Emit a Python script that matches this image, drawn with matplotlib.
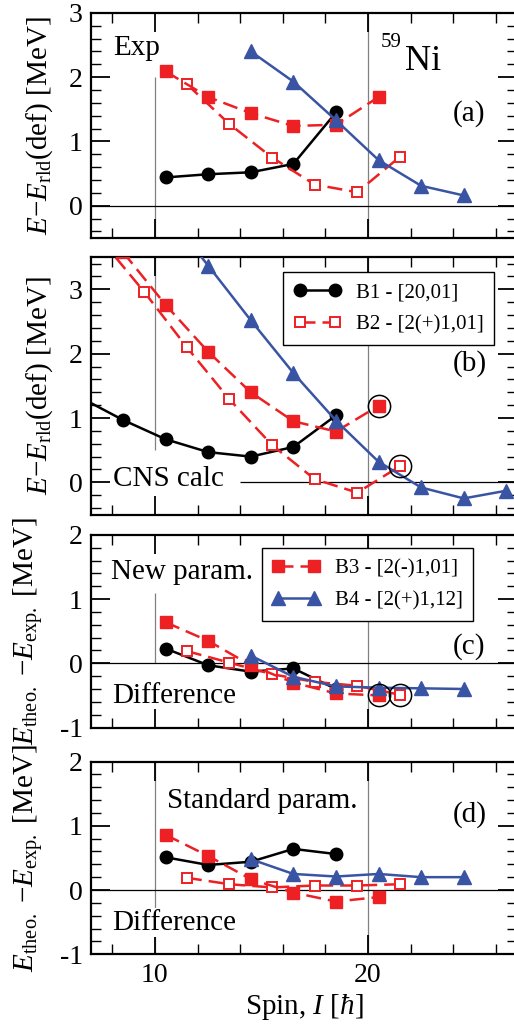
import matplotlib
matplotlib.use("Agg")
import matplotlib.pyplot as plt
from matplotlib.ticker import MultipleLocator, FuncFormatter

plt.rcParams["font.family"] = ["Liberation Serif", "DejaVu Serif"]
plt.rcParams["mathtext.fontset"] = "custom"
plt.rcParams["mathtext.rm"] = "Liberation Serif"
plt.rcParams["mathtext.it"] = "Liberation Serif:italic"
plt.rcParams["mathtext.bf"] = "Liberation Serif:bold"
plt.rcParams["axes.unicode_minus"] = False

RED = "#ED2024"
BLUE = "#3A54A4"

# ---- (a) experimental energies relative to rigid rotor reference ----
a_B1_spin = [10.5, 12.5, 14.5, 16.5, 18.5]
a_B1_E = [0.44, 0.49, 0.52, 0.65, 1.45]
a_B2_spin = [11.5, 13.5, 15.5, 17.5, 19.5, 21.5]
a_B2_E = [1.89, 1.27, 0.75, 0.33, 0.21, 0.76]
a_B3_spin = [10.5, 12.5, 14.5, 16.5, 18.5, 20.5]
a_B3_E = [2.09, 1.69, 1.44, 1.24, 1.26, 1.69]
a_B4_spin = [14.5, 16.5, 18.5, 20.5, 22.5, 24.5]
a_B4_E = [2.40, 1.93, 1.33, 0.71, 0.31, 0.16]

# ---- (b) CNS calculation ----
b_B1_spin = [6.5, 8.5, 10.5, 12.5, 14.5, 16.5, 18.5]
b_B1_E = [1.32, 0.97, 0.67, 0.47, 0.40, 0.55, 1.04]
b_B2_spin = [7.5, 9.5, 11.5, 13.5, 15.5, 17.5, 19.5, 21.5]
b_B2_E = [3.76, 2.96, 2.10, 1.29, 0.58, 0.05, -0.16, 0.25]
b_B3_spin = [8.5, 10.5, 12.5, 14.5, 16.5, 18.5, 20.5]
b_B3_E = [3.58, 2.76, 2.03, 1.40, 0.95, 0.79, 1.19]
b_B4_spin = [10.5, 12.5, 14.5, 16.5, 18.5, 20.5, 22.5, 24.5, 26.5]
b_B4_E = [4.20, 3.37, 2.52, 1.70, 0.96, 0.32, -0.08, -0.25, -0.13]
b_marked_spin = [20.5, 21.5]
b_marked_E = [1.19, 0.25]

# ---- (c) theory - experiment, new parameters ----
c_B1_spin = [10.5, 12.5, 14.5, 16.5, 18.5]
c_B1_dE = [0.23, -0.03, -0.13, -0.08, -0.40]
c_B2_spin = [11.5, 13.5, 15.5, 17.5, 19.5, 21.5]
c_B2_dE = [0.19, 0.01, -0.17, -0.29, -0.35, -0.49]
c_B3_spin = [10.5, 12.5, 14.5, 16.5, 18.5, 20.5]
c_B3_dE = [0.64, 0.35, -0.03, -0.30, -0.47, -0.50]
c_B4_spin = [14.5, 16.5, 18.5, 20.5, 22.5, 24.5]
c_B4_dE = [0.12, -0.21, -0.36, -0.38, -0.39, -0.40]
c_marked_spin = [20.5, 21.5]
c_marked_dE = [-0.50, -0.49]

# ---- (d) theory - experiment, standard parameters ----
d_B1_spin = [10.5, 12.5, 14.5, 16.5, 18.5]
d_B1_dE = [0.51, 0.39, 0.44, 0.64, 0.56]
d_B2_spin = [11.5, 13.5, 15.5, 17.5, 19.5, 21.5]
d_B2_dE = [0.19, 0.09, 0.04, 0.07, 0.07, 0.09]
d_B3_spin = [10.5, 12.5, 14.5, 16.5, 18.5, 20.5]
d_B3_dE = [0.86, 0.53, 0.17, -0.04, -0.18, -0.11]
d_B4_spin = [14.5, 16.5, 18.5, 20.5, 22.5, 24.5]
d_B4_dE = [0.48, 0.25, 0.21, 0.25, 0.20, 0.20]

band_labels = ["B1 - [20,01]", "B2 - [2(+)1,01]", "B3 - [2(-)1,01]", "B4 - [2(+)1,12]"]

W, H = 514, 1027
fig = plt.figure(figsize=(W / 100, H / 100), dpi=100)

LEFT, RIGHT = 91, 517


def make_axes(top_px, bot_px):
    return fig.add_axes([LEFT / W, 1 - bot_px / H, (RIGHT - LEFT) / W, (bot_px - top_px) / H])


ax_a = make_axes(12.8, 237.9)
ax_b = make_axes(257.2, 514.5)
ax_c = make_axes(534.9, 727.5)
ax_d = make_axes(761.6, 954.2)

ylims = {ax_a: (-0.5, 3.0), ax_b: (-0.5, 3.5), ax_c: (-1.0, 2.0), ax_d: (-1.0, 2.0)}

lw = 1.8
dash = (6, 2.8)


def draw_bands(ax, b1, b2, b3, b4):
    h1, = ax.plot(*b1, color="black", lw=lw, marker="o", ms=9, mfc="black",
                  mec="black", zorder=4, label=band_labels[0])
    h2, = ax.plot(*b2, color=RED, lw=lw, dashes=dash, marker="s", ms=7.5,
                  mfc="white", mec=RED, mew=1.4, zorder=5, label=band_labels[1])
    h3, = ax.plot(*b3, color=RED, lw=lw, dashes=dash, marker="s", ms=8,
                  mfc=RED, mec=RED, zorder=6, label=band_labels[2])
    h4, = ax.plot(*b4, color=BLUE, lw=lw, marker="^", ms=9.5, mfc=BLUE,
                  mec=BLUE, zorder=7, label=band_labels[3])
    return h1, h2, h3, h4


hs_a = draw_bands(ax_a, (a_B1_spin, a_B1_E), (a_B2_spin, a_B2_E),
                  (a_B3_spin, a_B3_E), (a_B4_spin, a_B4_E))
hs_b = draw_bands(ax_b, (b_B1_spin, b_B1_E), (b_B2_spin, b_B2_E),
                  (b_B3_spin, b_B3_E), (b_B4_spin, b_B4_E))
hs_c = draw_bands(ax_c, (c_B1_spin, c_B1_dE), (c_B2_spin, c_B2_dE),
                  (c_B3_spin, c_B3_dE), (c_B4_spin, c_B4_dE))
hs_d = draw_bands(ax_d, (d_B1_spin, d_B1_dE), (d_B2_spin, d_B2_dE),
                  (d_B3_spin, d_B3_dE), (d_B4_spin, d_B4_dE))

# circled states
ax_b.plot(b_marked_spin, b_marked_E, ls="none", marker="o", ms=16, mfc="none",
          mec="black", mew=1.1, zorder=8)
ax_c.plot(c_marked_spin, c_marked_dE, ls="none", marker="o", ms=16, mfc="none",
          mec="black", mew=1.1, zorder=8)

# reference lines: spin 10 and 20 guides, zero line
GRID = "#808080"
ax_a.vlines(10, -0.5, 2.0, color=GRID, lw=0.9, zorder=1)
ax_a.vlines(20, -0.5, 3.0, color=GRID, lw=0.9, zorder=1)
ax_a.hlines(0, 7, 27, color="black", lw=0.9, zorder=1)

ax_b.vlines(10, 0.5, 3.5, color=GRID, lw=0.9, zorder=1)
ax_b.vlines(20, -0.5, 3.5, color=GRID, lw=0.9, zorder=1)
ax_b.hlines(0, 14, 27, color="black", lw=0.9, zorder=1)

ax_c.vlines(10, 0.0, 1.1, color=GRID, lw=0.9, zorder=1)
ax_c.vlines(20, -1.0, 2.0, color=GRID, lw=0.9, zorder=1)
ax_c.hlines(0, 7, 27, color="black", lw=0.9, zorder=1)

ax_d.vlines(10, -1.0, 2.0, color=GRID, lw=0.9, zorder=1)
ax_d.vlines(20, -1.0, 2.0, color=GRID, lw=0.9, zorder=1)
ax_d.hlines(0, 7, 27, color="black", lw=0.9, zorder=1)

fmt = FuncFormatter(lambda v, p: "%d" % round(v))
for ax in (ax_a, ax_b, ax_c, ax_d):
    ax.set_xlim(7, 27)
    ax.set_ylim(*ylims[ax])
    ax.xaxis.set_major_locator(MultipleLocator(10))
    ax.xaxis.set_minor_locator(MultipleLocator(2))
    ax.yaxis.set_major_locator(MultipleLocator(1))
    ax.yaxis.set_minor_locator(MultipleLocator(0.2))
    ax.yaxis.set_major_formatter(fmt)
    ax.xaxis.set_major_formatter(fmt)
    ax.tick_params(which="both", direction="in", top=True, right=True,
                   labelsize=20, pad=6)
    ax.tick_params(which="major", length=14, width=1.3)
    ax.tick_params(which="minor", length=7, width=1.0)
    for s in ax.spines.values():
        s.set_linewidth(1.6)
    if ax is not ax_d:
        ax.tick_params(axis="x", which="both", labelbottom=False)

ax_d.set_xlabel(r"Spin, $I$ [$\hbar$]", fontsize=21, labelpad=3)

ylab_ab = r"$E$$-$$E_{\mathrm{rld}}$(def) [MeV]"
ylab_cd = r"$E_{\mathrm{theo.}}$ $-E_{\mathrm{exp.}}$ [MeV]"
ax_a.set_ylabel(ylab_ab, fontsize=21)
ax_b.set_ylabel(ylab_ab, fontsize=21)
ax_c.set_ylabel(ylab_cd, fontsize=21)
ax_d.set_ylabel(ylab_cd, fontsize=21)
ax_a.yaxis.set_label_coords(-0.085, 0.5)
ax_b.yaxis.set_label_coords(-0.085, 0.5)
ax_c.yaxis.set_label_coords(-0.108, 0.5)
ax_d.yaxis.set_label_coords(-0.108, 0.5)

TXT = 21
ax_a.text(8.03, 2.35, "Exp", fontsize=TXT, va="baseline", ha="left")
ax_a.text(20.62, 2.47, "59", fontsize=15, va="baseline", ha="left")
ax_a.text(21.75, 2.11, "Ni", fontsize=26, va="baseline", ha="left")
ax_a.text(23.98, 1.33, "(a)", fontsize=TXT, va="baseline", ha="left")

ax_b.text(8.03, -0.06, "CNS calc", fontsize=TXT, va="baseline", ha="left")
ax_b.text(23.98, 1.74, "(b)", fontsize=TXT, va="baseline", ha="left")

ax_c.text(7.92, 1.32, "New param.", fontsize=TXT, va="baseline", ha="left")
ax_c.text(8.01, -0.62, "Difference", fontsize=TXT, va="baseline", ha="left")
ax_c.text(23.98, 0.145, "(c)", fontsize=TXT, va="baseline", ha="left")

ax_d.text(10.55, 1.27, "Standard param.", fontsize=TXT, va="baseline", ha="left")
ax_d.text(8.01, -0.62, "Difference", fontsize=TXT, va="baseline", ha="left",
          bbox=dict(facecolor="white", edgecolor="none", pad=1), zorder=3)
ax_d.text(23.98, 1.06, "(d)", fontsize=TXT, va="baseline", ha="left")

leg_kw = dict(fontsize=15, numpoints=2, handlelength=2.3, handletextpad=0.7,
              borderpad=0.5, labelspacing=0.62, fancybox=False,
              edgecolor="black", framealpha=1, loc="upper left",
              borderaxespad=0)
lb = ax_b.legend(handles=[hs_b[0], hs_b[1]], bbox_to_anchor=(0.451, 0.942), **leg_kw)
lc = ax_c.legend(handles=[hs_c[2], hs_c[3]], bbox_to_anchor=(0.401, 0.932), **leg_kw)
for lg in (lb, lc):
    lg.get_frame().set_linewidth(1.0)
    lg.set_zorder(10)

fig.savefig("out.png", dpi=100)
